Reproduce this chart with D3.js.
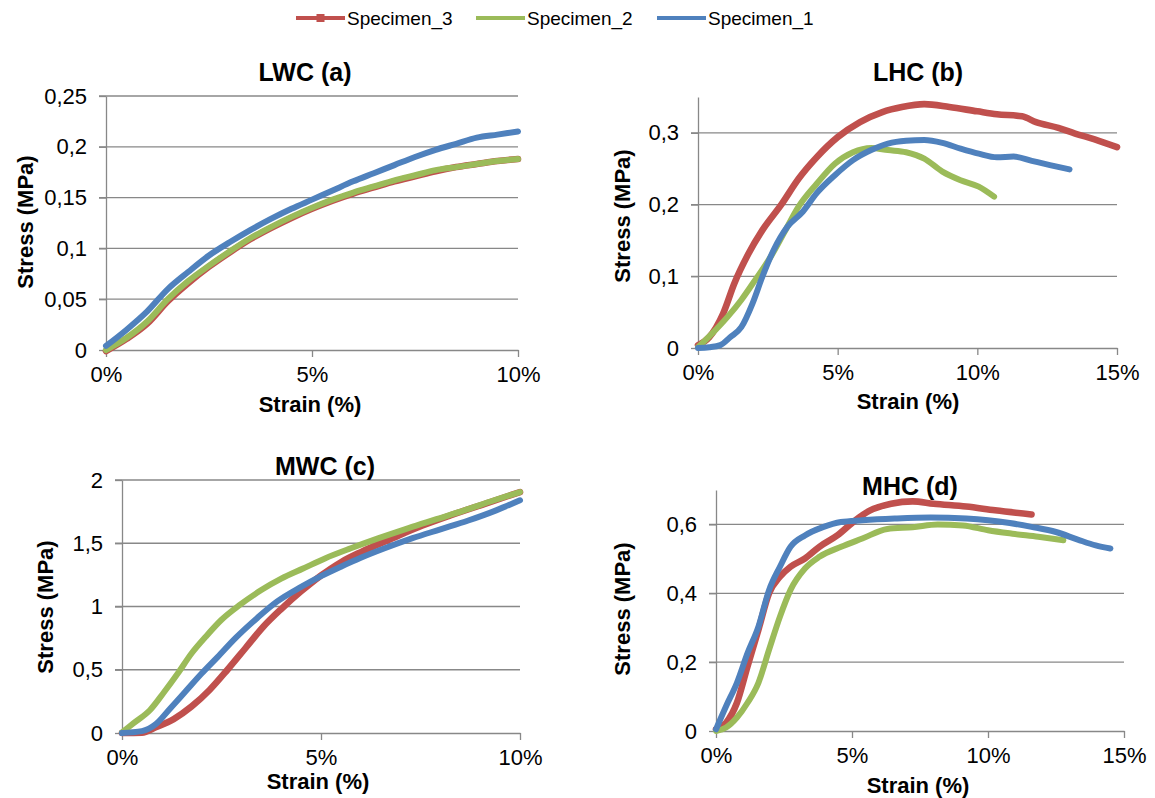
<!DOCTYPE html>
<html>
<head>
<meta charset="utf-8">
<script src="https://cdn.jsdelivr.net/npm/d3@7"></script>
<style>
  html, body { margin: 0; padding: 0; background: #fff; }
  svg { display: block; font-family: "Liberation Sans", Arial, sans-serif; }
</style>
</head>
<body>
<svg id="chart" width="1155" height="798"></svg>
<script>
// ---------------- DATA ----------------
const seriesNames = ["Specimen_3", "Specimen_2", "Specimen_1"];
const panelTitles = ["LWC (a)", "LHC (b)", "MWC (c)", "MHC (d)"];
const xAxisTitle = "Strain (%)";
const yAxisTitle = "Stress (MPa)";

// strain in %, stress in MPa
const lwcSpecimen3 = [[0,-0.001],[0.5,0.011],[1,0.026],[1.5,0.048],[2,0.066],[2.5,0.082],[3,0.096],[3.5,0.109],[4,0.12],[4.5,0.13],[5,0.139],[5.5,0.147],[6,0.154],[6.5,0.16],[7,0.166],[7.5,0.171],[8,0.176],[8.5,0.18],[9,0.183],[9.5,0.186],[10,0.188]];
const lwcSpecimen2 = [[0,0],[0.5,0.012],[1,0.028],[1.5,0.05],[2,0.068],[2.5,0.083],[3,0.097],[3.5,0.11],[4,0.121],[4.5,0.131],[5,0.14],[5.5,0.148],[6,0.155],[6.5,0.161],[7,0.167],[7.5,0.172],[8,0.177],[8.5,0.18],[9,0.183],[9.5,0.186],[10,0.188]];
const lwcSpecimen1 = [[0,0.004],[0.5,0.02],[1,0.038],[1.5,0.06],[2,0.077],[2.5,0.093],[3,0.106],[3.5,0.118],[4,0.129],[4.5,0.139],[5,0.148],[5.5,0.157],[6,0.166],[6.5,0.174],[7,0.182],[7.5,0.19],[8,0.197],[8.5,0.203],[9,0.209],[9.5,0.212],[10,0.215]];

const lhcSpecimen3 = [[0,0.004],[0.4,0.015],[0.9,0.048],[1.3,0.09],[1.8,0.131],[2.3,0.164],[3,0.201],[3.6,0.236],[4.25,0.266],[5,0.294],[5.8,0.315],[6.6,0.329],[7.3,0.336],[8.1,0.34],[9,0.336],[10,0.33],[10.7,0.326],[11.6,0.323],[12.1,0.315],[12.9,0.307],[13.5,0.299],[14.2,0.291],[15,0.28]];
const lhcSpecimen2 = [[0,0.001],[0.5,0.02],[1.05,0.043],[1.55,0.067],[2.05,0.095],[2.6,0.127],[3.1,0.162],[3.6,0.197],[4.25,0.229],[4.9,0.257],[5.55,0.273],[6.2,0.279],[6.8,0.276],[7.45,0.273],[8.1,0.264],[8.75,0.246],[9.4,0.234],[10.05,0.225],[10.6,0.211]];
const lhcSpecimen1 = [[0,0],[0.4,0.001],[0.8,0.004],[1.15,0.015],[1.55,0.029],[1.95,0.062],[2.3,0.099],[2.7,0.136],[3.2,0.169],[3.75,0.19],[4.25,0.216],[4.9,0.241],[5.55,0.262],[6.2,0.276],[6.8,0.285],[7.45,0.289],[8.1,0.29],[8.75,0.286],[9.4,0.278],[10.05,0.271],[10.7,0.266],[11.3,0.267],[11.95,0.261],[12.6,0.255],[13.3,0.249]];

const mwcSpecimen3 = [[0,0],[0.5,0.002],[0.85,0.045],[1.3,0.11],[1.75,0.21],[2.2,0.34],[2.65,0.5],[3.1,0.67],[3.55,0.84],[4,0.98],[4.5,1.12],[5,1.245],[5.5,1.35],[6,1.43],[6.8,1.54],[7.55,1.64],[8.25,1.72],[9.1,1.81],[10,1.905]];
const mwcSpecimen2 = [[0,0.005],[0.3,0.08],[0.7,0.18],[1.05,0.32],[1.4,0.47],[1.75,0.63],[2.1,0.76],[2.5,0.895],[2.95,1.01],[3.5,1.13],[4,1.22],[4.55,1.3],[5.1,1.38],[5.75,1.46],[6.45,1.54],[7.2,1.62],[7.9,1.69],[8.6,1.76],[9.35,1.84],[10,1.905]];
const mwcSpecimen1 = [[0,0],[0.5,0.015],[0.85,0.07],[1.2,0.19],[1.6,0.33],[2,0.47],[2.4,0.6],[2.85,0.75],[3.4,0.91],[3.9,1.04],[4.5,1.155],[5,1.24],[5.5,1.315],[6,1.385],[6.6,1.46],[7.3,1.54],[8,1.61],[8.7,1.68],[9.4,1.76],[10,1.84]];

const mhcSpecimen3 = [[0,0.005],[0.37,0.024],[0.77,0.082],[1.16,0.188],[1.56,0.294],[1.95,0.4],[2.35,0.448],[2.74,0.477],[3.27,0.501],[3.8,0.535],[4.46,0.568],[5.12,0.612],[5.65,0.64],[6.44,0.66],[7.23,0.667],[8,0.66],[9.2,0.652],[10.26,0.641],[11.6,0.629]];
const mhcSpecimen2 = [[0,0],[0.37,0.01],[0.77,0.039],[1.16,0.082],[1.56,0.14],[1.95,0.236],[2.35,0.332],[2.74,0.41],[3.27,0.472],[3.8,0.506],[4.6,0.535],[5.38,0.559],[6.3,0.587],[7.23,0.592],[8.15,0.6],[9.08,0.597],[10,0.583],[10.9,0.573],[11.85,0.564],[12.77,0.554]];
const mhcSpecimen1 = [[0,0.005],[0.37,0.072],[0.77,0.14],[1.16,0.226],[1.56,0.303],[1.95,0.409],[2.35,0.477],[2.74,0.535],[3.27,0.568],[3.93,0.592],[4.59,0.607],[5.38,0.612],[6.57,0.617],[7.89,0.62],[9.2,0.617],[10,0.612],[10.8,0.604],[11.6,0.593],[12.5,0.578],[13.3,0.556],[13.96,0.539],[14.5,0.53]];

const lwcYTicks = [0, 0.05, 0.1, 0.15, 0.2, 0.25];
const lhcYTicks = [0, 0.1, 0.2, 0.3];
const mwcYTicks = [0, 0.5, 1, 1.5, 2];
const mhcYTicks = [0, 0.2, 0.4, 0.6];
const xTicks10 = [0, 5, 10];
const xTicks15 = [0, 5, 10, 15];

// ---------------- STYLE / LAYOUT ----------------
const colors = { "Specimen_3": "#C0504D", "Specimen_2": "#9BBB59", "Specimen_1": "#4F81BD" };
const gridColor = "#888888";
const fmtY = d => String(d).replace(".", ",");
const fmtX = d => d + "%";

const svg = d3.select("#chart");

const panels = [
  { title: panelTitles[0], series: [lwcSpecimen3, lwcSpecimen2, lwcSpecimen1], xMax: 10, yMax: 0.25, xTicks: xTicks10, yTicks: lwcYTicks,
    left: 106, right: 518, bottom: 350, top: 96, titleXY: [305, 81], xTitleXY: [310, 412], yTitleXY: [25, 222] },
  { title: panelTitles[1], series: [lhcSpecimen3, lhcSpecimen2, lhcSpecimen1], xMax: 15, yMax: 0.35, xTicks: xTicks15, yTicks: lhcYTicks,
    left: 698, right: 1117, bottom: 348, top: 97, titleXY: [918, 81], xTitleXY: [908, 409], yTitleXY: [622, 216] },
  { title: panelTitles[2], series: [mwcSpecimen3, mwcSpecimen2, mwcSpecimen1], xMax: 10, yMax: 2, xTicks: xTicks10, yTicks: mwcYTicks,
    left: 122, right: 520, bottom: 733, top: 480, titleXY: [325, 475], xTitleXY: [318, 789], yTitleXY: [45, 607] },
  { title: panelTitles[3], series: [mhcSpecimen3, mhcSpecimen2, mhcSpecimen1], xMax: 15, yMax: 0.7, xTicks: xTicks15, yTicks: mhcYTicks,
    left: 716, right: 1124, bottom: 731, top: 490, titleXY: [910, 495], xTitleXY: [918, 793], yTitleXY: [622, 609] }
];

panels.forEach(p => {
  const g = svg.append("g");
  const x = d3.scaleLinear().domain([0, p.xMax]).range([p.left, p.right]);
  const y = d3.scaleLinear().domain([0, p.yMax]).range([p.bottom, p.top]);

  // gridlines
  g.selectAll(".grid").data(p.yTicks.filter(t => t > 0)).enter().append("line")
    .attr("x1", p.left - 7).attr("x2", p.right)
    .attr("y1", d => y(d)).attr("y2", d => y(d))
    .attr("stroke", gridColor).attr("stroke-width", 1.3);

  // y axis
  const yAxis = d3.axisLeft(y).tickValues(p.yTicks).tickSize(7).tickSizeOuter(0).tickPadding(12).tickFormat(fmtY);
  const ya = g.append("g").attr("transform", `translate(${p.left},0)`).call(yAxis);
  ya.select(".domain").attr("stroke", gridColor).attr("stroke-width", 1.3);
  ya.selectAll(".tick line").attr("stroke", gridColor).attr("stroke-width", 1.3);
  ya.selectAll(".tick text").attr("font-size", 22).attr("fill", "#000").attr("font-family", "Liberation Sans, Arial, sans-serif");

  // x axis
  const xAxis = d3.axisBottom(x).tickValues(p.xTicks).tickSize(7).tickSizeOuter(0).tickPadding(9).tickFormat(fmtX);
  const xa = g.append("g").attr("transform", `translate(0,${p.bottom})`).call(xAxis);
  xa.select(".domain").attr("stroke", gridColor).attr("stroke-width", 1.3);
  xa.selectAll(".tick line").attr("stroke", gridColor).attr("stroke-width", 1.3);
  xa.selectAll(".tick text").attr("font-size", 22).attr("fill", "#000").attr("font-family", "Liberation Sans, Arial, sans-serif");

  // series lines
  const line = d3.line().x(d => x(d[0])).y(d => y(d[1])).curve(d3.curveMonotoneX);
  p.series.forEach((s, i) => {
    g.append("path").datum(s)
      .attr("d", line)
      .attr("fill", "none")
      .attr("stroke", colors[seriesNames[i]])
      .attr("stroke-width", i === 0 ? 6.6 : 6)
      .attr("stroke-linejoin", "round")
      .attr("stroke-linecap", "round");
  });

  // titles
  g.append("text").attr("x", p.titleXY[0]).attr("y", p.titleXY[1])
    .attr("text-anchor", "middle").attr("font-weight", "bold").attr("font-size", 25).text(p.title);
  g.append("text").attr("x", p.xTitleXY[0]).attr("y", p.xTitleXY[1])
    .attr("text-anchor", "middle").attr("font-weight", "bold").attr("font-size", 22).text(xAxisTitle);
  g.append("text")
    .attr("transform", `translate(${p.yTitleXY[0]},${p.yTitleXY[1]}) rotate(-90)`)
    .attr("text-anchor", "middle").attr("dominant-baseline", "central")
    .attr("font-weight", "bold").attr("font-size", 22).text(yAxisTitle);
});

// ---------------- LEGEND ----------------
const legendX = [296, 476, 657];
const legend = svg.append("g");
seriesNames.forEach((name, i) => {
  const lg = legend.append("g").attr("transform", `translate(${legendX[i]},18)`);
  lg.append("line").attr("x1", 0).attr("x2", 49).attr("y1", 0).attr("y2", 0)
    .attr("stroke", colors[name]).attr("stroke-width", 4);
  if (i === 0) {
    lg.append("rect").attr("x", 20.5).attr("y", -4).attr("width", 8).attr("height", 8).attr("fill", colors[name]);
  }
  lg.append("text").attr("x", 51).attr("y", 0).attr("dominant-baseline", "central")
    .attr("font-size", 19).attr("fill", "#000").text(name);
});
</script>
</body>
</html>
